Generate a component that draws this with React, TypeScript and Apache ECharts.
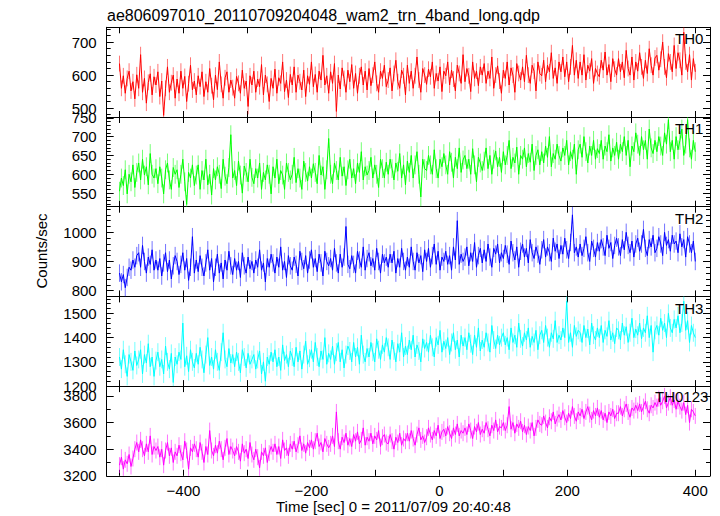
import React, { useEffect, useRef } from 'react';
import * as echarts from 'echarts';

const TITLE = 'ae806097010_20110709204048_wam2_trn_4band_long.qdp';
const X_LABEL = 'Time [sec] 0 = 2011/07/09 20:40:48';
const Y_LABEL = 'Counts/sec';
const panelNames = ['TH0', 'TH1', 'TH2', 'TH3', 'TH0123'];

// time bins: t = tStart + k * tStep
const tStart = -500;
const tStep = 3;

const th0 = [
  635, 560, 598, 545, 590, 612, 552, 580, 528, 601,
  560, 662, 548, 590, 515, 578, 604, 540, 595, 570,
  610, 535, 582, 478, 560, 625, 548, 577, 600, 530,
  588, 545, 612, 560, 596, 520, 574, 630, 555, 582,
  540, 598, 565, 610, 535, 580, 548, 620, 568, 525,
  600, 556, 640, 572, 530, 592, 610, 548, 585, 562,
  530, 596, 575, 545, 615, 560, 582, 505, 598, 570,
  612, 548, 588, 565, 632, 540, 600, 572, 520, 590,
  560, 618, 545, 592, 575, 640, 550, 585, 532, 602,
  570, 625, 548, 600, 580, 555, 615, 535, 598, 572,
  640, 565, 602, 548, 612, 585, 660, 570, 598, 545,
  610, 575, 635, 490, 600, 558, 622, 590, 548, 615,
  580, 632, 560, 605, 545, 598, 625, 570, 612, 555,
  620, 568, 600, 640, 575, 548, 612, 590, 630, 565,
  585, 622, 552, 605, 645, 580, 560, 615, 598, 540,
  630, 575, 612, 560, 598, 655, 585, 548, 620, 600,
  572, 618, 595, 640, 560, 605, 582, 625, 550, 612,
  598, 640, 570, 615, 588, 552, 630, 605, 575, 662,
  580, 620, 598, 550, 640, 590, 612, 568, 625, 600,
  635, 575, 612, 590, 655, 560, 600, 628, 582, 545,
  615, 590, 640, 570, 622, 600, 548, 635, 605, 585,
  625, 580, 660, 600, 575, 630, 612, 552, 640, 605,
  598, 645, 580, 630, 610, 668, 590, 622, 575, 640,
  610, 655, 595, 640, 580, 625, 690, 600, 645, 590,
  640, 600, 662, 585, 630, 612, 650, 575, 620, 605,
  595, 645, 615, 670, 600, 632, 580, 650, 618, 600,
  650, 610, 640, 592, 675, 620, 600, 655, 585, 640,
  612, 668, 625, 590, 645, 605, 680, 630, 600, 652,
  660, 615, 648, 700, 625, 592, 665, 640, 610, 690,
  620, 668, 645, 600, 730, 640, 610, 662, 585, 650,
  610,
];

const th1 = [
  555, 590, 570, 612, 548, 600, 580, 625, 565, 605,
  630, 585, 640, 598, 620, 572, 655, 600, 590, 615,
  575, 620, 590, 548, 612, 630, 585, 560, 618, 600,
  612, 565, 600, 640, 580, 520, 605, 590, 625, 570,
  598, 625, 560, 610, 585, 640, 572, 600, 545, 615,
  585, 620, 600, 562, 640, 595, 575, 618, 705, 590,
  610, 570, 635, 598, 550, 622, 605, 580, 640, 592,
  575, 615, 590, 630, 560, 605, 585, 625, 600, 548,
  620, 590, 640, 575, 610, 598, 560, 630, 605, 585,
  600, 645, 578, 615, 590, 560, 635, 605, 582, 620,
  590, 628, 605, 575, 650, 598, 620, 560, 612, 695,
  600, 575, 630, 610, 585, 645, 595, 620, 570, 612,
  640, 590, 615, 575, 630, 605, 660, 585, 620, 598,
  610, 645, 590, 625, 600, 565, 640, 615, 590, 632,
  600, 640, 615, 585, 630, 608, 655, 590, 625, 572,
  635, 605, 650, 590, 625, 660, 600, 540, 640, 615,
  610, 650, 625, 600, 665, 615, 590, 640, 620, 655,
  625, 600, 660, 632, 590, 645, 615, 670, 605, 638,
  650, 615, 640, 600, 668, 625, 580, 645, 630, 610,
  635, 670, 615, 650, 600, 640, 662, 620, 645, 605,
  660, 625, 650, 690, 615, 645, 630, 672, 600, 650,
  640, 670, 620, 655, 632, 680, 610, 650, 665, 625,
  660, 630, 675, 645, 700, 620, 655, 640, 680, 650,
  635, 670, 650, 690, 625, 660, 640, 680, 600, 665,
  680, 645, 700, 660, 630, 675, 650, 690, 640, 668,
  655, 690, 640, 675, 660, 705, 635, 670, 650, 685,
  640, 680, 660, 700, 650, 690, 620, 675, 660, 710,
  680, 650, 700, 665, 690, 640, 720, 670, 655, 690,
  660, 700, 675, 650, 710, 680, 745, 660, 690, 640,
  700, 665, 690, 720, 650, 680, 745, 670, 640, 690,
  660,
];

const th2 = [
  860, 830, 855, 810, 845, 880, 870, 905, 880, 920,
  930, 880, 955, 900, 860, 915, 890, 940, 870, 905,
  870, 910, 850, 895, 930, 865, 905, 840, 885, 920,
  900, 855, 890, 930, 870, 910, 835, 880, 985, 860,
  905, 865, 920, 880, 850, 895, 940, 870, 910, 830,
  880, 925, 860, 895, 840, 905, 870, 935, 885, 855,
  910, 870, 900, 845, 930, 885, 860, 915, 875, 900,
  860, 905, 880, 940, 870, 895, 830, 910, 880, 925,
  895, 860, 915, 880, 950, 870, 900, 845, 920, 885,
  870, 915, 890, 850, 935, 900, 875, 920, 860, 905,
  940, 880, 910, 865, 925, 895, 850, 935, 900, 885,
  910, 870, 945, 895, 860, 925, 880, 915, 1020, 890,
  875, 920, 890, 860, 935, 905, 880, 950, 870, 910,
  930, 885, 910, 870, 945, 900, 860, 925, 895, 915,
  880, 925, 895, 935, 860, 910, 880, 945, 900, 870,
  915, 880, 950, 900, 870, 930, 895, 920, 865, 940,
  900, 945, 880, 920, 960, 890, 935, 870, 915, 900,
  935, 890, 920, 870, 950, 905, 1040, 890, 925, 900,
  915, 950, 885, 930, 900, 965, 880, 920, 945, 895,
  940, 900, 960, 915, 880, 945, 925, 960, 895, 930,
  910, 955, 925, 890, 970, 930, 905, 950, 880, 935,
  960, 915, 945, 895, 975, 930, 910, 950, 925, 890,
  940, 975, 915, 950, 930, 900, 980, 935, 960, 910,
  955, 925, 980, 940, 910, 965, 1060, 930, 950, 915,
  960, 920, 945, 985, 930, 900, 970, 945, 915, 965,
  935, 975, 950, 920, 990, 945, 965, 910, 955, 980,
  950, 920, 975, 940, 1000, 955, 930, 970, 915, 960,
  980, 935, 960, 1010, 945, 920, 975, 950, 990, 930,
  945, 985, 960, 920, 1000, 955, 975, 935, 990, 960,
  970, 930, 995, 950, 975, 915, 985, 960, 930, 970,
  900,
];

const th3 = [
  1320, 1270, 1350, 1290, 1240, 1330, 1300, 1265, 1345, 1285,
  1310, 1350, 1250, 1330, 1295, 1375, 1280, 1320, 1240, 1305,
  1340, 1280, 1310, 1250, 1365, 1300, 1270, 1335, 1215, 1320,
  1290, 1340, 1310, 1460, 1280, 1325, 1260, 1350, 1300, 1275,
  1335, 1290, 1360, 1310, 1255, 1330, 1400, 1285, 1320, 1270,
  1350, 1300, 1265, 1340, 1420, 1310, 1280, 1355, 1295, 1330,
  1280, 1340, 1300, 1255, 1350, 1320, 1275, 1335, 1290, 1310,
  1330, 1270, 1310, 1345, 1250, 1300, 1220, 1320, 1290, 1340,
  1300, 1350, 1280, 1320, 1265, 1370, 1305, 1330, 1280, 1345,
  1320, 1280, 1360, 1300, 1345, 1270, 1330, 1385, 1290, 1315,
  1350, 1300, 1380, 1320, 1280, 1345, 1310, 1400, 1290, 1335,
  1310, 1365, 1290, 1340, 1380, 1300, 1350, 1275, 1330, 1365,
  1345, 1300, 1380, 1320, 1360, 1290, 1410, 1330, 1300, 1355,
  1320, 1380, 1340, 1300, 1395, 1350, 1310, 1370, 1340, 1400,
  1360, 1310, 1390, 1345, 1300, 1375, 1340, 1420, 1320, 1365,
  1330, 1390, 1350, 1410, 1320, 1370, 1345, 1300, 1395, 1355,
  1380, 1340, 1410, 1360, 1320, 1400, 1370, 1430, 1340, 1385,
  1355, 1400, 1330, 1380, 1420, 1350, 1390, 1320, 1410, 1365,
  1400, 1350, 1420, 1375, 1330, 1410, 1360, 1440, 1345, 1390,
  1360, 1420, 1380, 1340, 1450, 1390, 1355, 1410, 1370, 1400,
  1420, 1370, 1400, 1350, 1440, 1380, 1410, 1360, 1460, 1395,
  1365, 1420, 1390, 1440, 1360, 1405, 1380, 1430, 1350, 1410,
  1430, 1380, 1450, 1400, 1360, 1420, 1395, 1470, 1380, 1410,
  1390, 1440, 1400, 1550, 1380, 1420, 1360, 1450, 1405, 1430,
  1420, 1380, 1450, 1400, 1435, 1370, 1460, 1410, 1390, 1440,
  1400, 1450, 1380, 1430, 1405, 1470, 1390, 1420, 1375, 1440,
  1430, 1390, 1460, 1410, 1445, 1380, 1420, 1480, 1400, 1435,
  1410, 1460, 1395, 1440, 1420, 1490, 1400, 1450, 1340, 1430,
  1450, 1410, 1480, 1430, 1460, 1400, 1500, 1440, 1420, 1475,
  1440, 1490, 1420, 1460, 1550, 1430, 1470, 1380, 1450, 1420,
  1400,
];

const th0123 = [
  3280, 3340, 3250, 3320, 3290, 3360, 3270, 3330, 3400, 3450,
  3380, 3470, 3400, 3350, 3440, 3380, 3500, 3360, 3420, 3390,
  3420, 3340, 3400, 3280, 3390, 3450, 3350, 3410, 3300, 3380,
  3350, 3430, 3370, 3320, 3460, 3390, 3250, 3410, 3380, 3440,
  3400, 3340, 3450, 3380, 3300, 3420, 3360, 3540, 3390, 3350,
  3430, 3370, 3460, 3400, 3320, 3410, 3480, 3360, 3420, 3390,
  3350, 3420, 3380, 3310, 3440, 3370, 3400, 3330, 3450, 3360,
  3320, 3400, 3340, 3260, 3380, 3350, 3410, 3300, 3370, 3420,
  3380, 3440, 3360, 3420, 3330, 3470, 3390, 3410, 3350, 3440,
  3400, 3460, 3380, 3430, 3500, 3390, 3440, 3370, 3450, 3410,
  3470, 3400, 3460, 3520, 3420, 3450, 3380, 3480, 3440, 3410,
  3440, 3500, 3420, 3680, 3460, 3400, 3490, 3450, 3520, 3430,
  3480, 3420, 3510, 3460, 3530, 3440, 3470, 3560, 3430, 3490,
  3460, 3520, 3440, 3500, 3470, 3540, 3420, 3490, 3510, 3450,
  3440, 3510, 3460, 3400, 3490, 3450, 3520, 3430, 3480, 3460,
  3520, 3460, 3540, 3480, 3430, 3510, 3560, 3470, 3500, 3450,
  3490, 3560, 3510, 3470, 3540, 3500, 3580, 3480, 3530, 3550,
  3500, 3570, 3520, 3480, 3560, 3510, 3590, 3500, 3540, 3520,
  3560, 3510, 3590, 3540, 3480, 3570, 3530, 3600, 3510, 3550,
  3520, 3600, 3550, 3500, 3580, 3540, 3620, 3530, 3570, 3560,
  3600, 3540, 3580, 3720, 3550, 3600, 3520, 3590, 3560, 3610,
  3530, 3580, 3510, 3570, 3540, 3600, 3500, 3560, 3620, 3590,
  3580, 3650, 3600, 3560, 3640, 3610, 3680, 3590, 3630, 3660,
  3620, 3690, 3640, 3600, 3670, 3630, 3720, 3650, 3610, 3680,
  3650, 3700, 3630, 3680, 3720, 3660, 3620, 3690, 3650, 3710,
  3640, 3690, 3620, 3670, 3600, 3680, 3650, 3700, 3630, 3670,
  3670, 3720, 3650, 3700, 3740, 3680, 3640, 3710, 3690, 3730,
  3690, 3740, 3680, 3720, 3760, 3700, 3670, 3730, 3710, 3750,
  3720, 3780, 3730, 3760, 3800, 3710, 3750, 3790, 3730, 3770,
  3700, 3760, 3720, 3690, 3750, 3660, 3730, 3600, 3700, 3680,
  3650,
];

const seriesValues = [th0, th1, th2, th3, th0123];
// half-length of the error bars, per panel (counts/sec)
const errHalf = [24, 25, 30, 37, 60];

// axis ranges and tick steps
const xMin = -520;
const xMax = 423;
const xTickStep = 100;
const xLabelStep = 200;
const yMin = [473, 514, 780, 1200, 3200];
const yMax = [745, 752, 1088, 1570, 3874];
const yTickStep = [100, 50, 100, 100, 200];
const yMinorSplit = [5, 5, 5, 5, 2];

// styles
const lineColors = ['#ff0000', '#00ff00', '#0000ff', '#00ffff', '#ff00ff'];
const errColors = [
  'rgba(255,0,0,0.55)',
  'rgba(0,255,0,0.55)',
  'rgba(0,0,255,0.55)',
  'rgba(0,255,255,0.55)',
  'rgba(255,0,255,0.55)',
];
const FONT = '"Liberation Sans", Arial, Helvetica, sans-serif';
const GRID_LEFT = 106.7;
const GRID_RIGHT = 710;
const GRID_TOP = 27.3;
const PANEL_H = 89.7;
const labelPos = [
  [675, 38],
  [675, 128],
  [675, 218],
  [675, 308],
  [655, 396.5],
];

function buildOption() {
  const grids: any[] = [];
  const xAxes: any[] = [];
  const yAxes: any[] = [];
  const series: any[] = [];
  const axisLine = { show: true, onZero: false, lineStyle: { color: '#000', width: 1 } };

  panelNames.forEach((name, i) => {
    grids.push({
      left: GRID_LEFT,
      width: GRID_RIGHT - GRID_LEFT,
      top: GRID_TOP + i * PANEL_H,
      height: PANEL_H,
      show: false,
    });
    ['bottom', 'top'].forEach((pos) => {
      xAxes.push({
        type: 'value',
        gridIndex: i,
        position: pos,
        min: xMin,
        max: xMax,
        minInterval: xTickStep,
        maxInterval: xTickStep,
        axisLine,
        axisTick: { show: true, inside: true, length: 6, lineStyle: { color: '#000', width: 1 } },
        axisLabel: {
          show: pos === 'bottom' && i === panelNames.length - 1,
          margin: 7,
          fontSize: 15,
          color: '#000',
          fontFamily: FONT,
          formatter: (v: number) =>
            Math.abs(v % xLabelStep) < 1e-6 ? String(v).replace('-', '\u2212') : '',
        },
        splitLine: { show: false },
      });
    });
    ['left', 'right'].forEach((pos) => {
      const step = yTickStep[i];
      yAxes.push({
        type: 'value',
        gridIndex: i,
        position: pos,
        min: yMin[i],
        max: yMax[i],
        minInterval: step,
        maxInterval: step,
        axisLine,
        axisTick: { show: true, inside: true, length: 7, lineStyle: { color: '#000', width: 1 } },
        minorTick: {
          show: true,
          splitNumber: yMinorSplit[i],
          length: 4,
          lineStyle: { color: '#000', width: 1 },
        },
        axisLabel: {
          show: pos === 'left',
          margin: 10,
          fontSize: 15,
          color: '#000',
          fontFamily: FONT,
          formatter: (v: number) => (Math.abs(v % step) < 1e-6 ? String(v) : ''),
        },
        splitLine: { show: false },
        minorSplitLine: { show: false },
      });
    });

    const vals = seriesValues[i];
    const data = vals.map((v, k) => [tStart + k * tStep, v]);
    const e = errHalf[i];
    const lo = yMin[i];
    const hi = yMax[i];
    const ec = errColors[i];
    series.push({
      type: 'custom',
      name: name + ' err',
      xAxisIndex: 2 * i,
      yAxisIndex: 2 * i,
      data,
      encode: { x: 0, y: 1 },
      silent: true,
      z: 1,
      renderItem: (_params: any, api: any) => {
        const t = api.value(0);
        const v = api.value(1);
        const a = api.coord([t, Math.max(v - e, lo)]);
        const b = api.coord([t, Math.min(v + e, hi)]);
        return {
          type: 'line',
          shape: { x1: a[0], y1: a[1], x2: b[0], y2: b[1] },
          style: { stroke: ec, lineWidth: 1 },
        };
      },
    });
    series.push({
      type: 'line',
      name,
      xAxisIndex: 2 * i,
      yAxisIndex: 2 * i,
      data,
      showSymbol: false,
      symbol: 'none',
      clip: true,
      silent: true,
      z: 2,
      lineStyle: { color: lineColors[i], width: 1 },
      itemStyle: { color: lineColors[i] },
    });
  });

  const graphic: any[] = [
    {
      type: 'text',
      x: 107,
      y: 15,
      style: { text: TITLE, font: `16px ${FONT}`, fill: '#000', align: 'left', verticalAlign: 'middle' },
    },
    {
      type: 'text',
      x: 276,
      y: 506,
      style: { text: X_LABEL, font: `15px ${FONT}`, fill: '#000', align: 'left', verticalAlign: 'middle' },
    },
    {
      type: 'text',
      x: 41,
      y: 251,
      rotation: Math.PI / 2,
      style: { text: Y_LABEL, font: `15px ${FONT}`, fill: '#000', align: 'center', verticalAlign: 'middle' },
    },
  ];
  panelNames.forEach((name, i) => {
    graphic.push({
      type: 'text',
      x: labelPos[i][0],
      y: labelPos[i][1],
      z: 10,
      style: { text: name, font: `15px ${FONT}`, fill: '#000', align: 'left', verticalAlign: 'middle' },
    });
  });

  return {
    animation: false,
    backgroundColor: '#fff',
    grid: grids,
    xAxis: xAxes,
    yAxis: yAxes,
    series,
    graphic,
  };
}

export default function App() {
  const ref = useRef<HTMLDivElement>(null);
  useEffect(() => {
    if (!ref.current) return;
    const chart = echarts.init(ref.current, null, { renderer: 'svg' });
    chart.setOption(buildOption());
    return () => chart.dispose();
  }, []);
  return (
    <div
      ref={ref}
      style={{ position: 'fixed', left: 0, top: 0, width: 720, height: 516, background: '#fff' }}
    />
  );
}
